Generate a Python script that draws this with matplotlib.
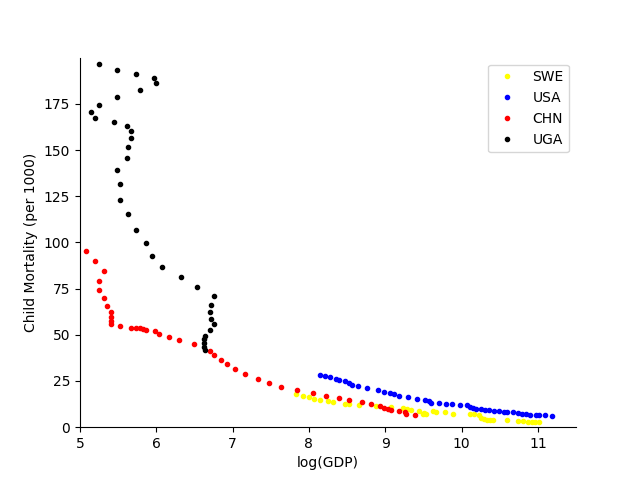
import matplotlib
matplotlib.use("Agg")
import matplotlib.pyplot as plt

uga_x = [5.25, 5.49, 5.74, 5.97, 6.00, 5.78, 5.49, 5.25, 5.14, 5.20, 5.44, 5.61, 5.67, 5.67, 5.63,
         5.61, 5.49, 5.53, 5.53, 5.63, 5.74, 5.86, 5.95, 6.07, 6.32, 6.53, 6.76, 6.72, 6.70, 6.72,
         6.75, 6.71, 6.64, 6.62, 6.63, 6.62, 6.64]
uga_y = [196.5, 193.3, 191.1, 189.0, 186.3, 182.6, 178.6, 174.3, 170.5, 167.2, 165.0, 162.9, 160.2, 156.4, 151.5,
         145.5, 139.0, 131.4, 123.2, 115.1, 106.9, 99.6, 92.8, 86.8, 81.4, 75.9, 71.0, 66.1, 62.3, 58.5,
         55.8, 52.6, 49.6, 47.7, 45.5, 43.3, 41.7]

chn_x = [5.08, 5.20, 5.31, 5.25, 5.25, 5.31, 5.35, 5.40, 5.40, 5.40, 5.40, 5.53, 5.67, 5.74, 5.79,
         5.83, 5.86, 5.98, 6.04, 6.16, 6.30, 6.49, 6.70, 6.76, 6.85, 6.92, 7.03, 7.16, 7.33, 7.48,
         7.64, 7.84, 8.05, 8.22, 8.39, 8.53, 8.69, 8.82, 8.93, 8.99, 9.03, 9.07, 9.18, 9.26, 9.27, 9.39]
chn_y = [95.5, 90.0, 84.6, 79.2, 74.3, 69.9, 65.6, 62.3, 59.6, 57.4, 55.8, 54.7, 53.6, 53.6, 53.6,
         53.1, 52.6, 52.0, 50.4, 48.8, 47.1, 44.9, 41.1, 39.0, 36.2, 34.1, 31.4, 28.6, 25.9, 23.7,
         21.6, 19.9, 18.3, 16.7, 15.6, 14.5, 13.4, 12.3, 11.3, 10.2, 9.6, 9.1, 8.5, 8.0, 6.9, 6.4]

usa_x = [8.14, 8.21, 8.27, 8.35, 8.39, 8.47, 8.53, 8.57, 8.64, 8.76, 8.90, 8.99, 9.06, 9.11, 9.18,
         9.30, 9.41, 9.52, 9.58, 9.60, 9.70, 9.80, 9.87, 9.98, 10.07, 10.11, 10.15, 10.19, 10.25, 10.31,
         10.36, 10.42, 10.49, 10.55, 10.60, 10.68, 10.74, 10.79, 10.84, 10.90, 10.97, 11.02, 11.09, 11.18]
usa_y = [28.1, 27.7, 27.2, 26.1, 25.5, 24.8, 23.7, 22.8, 22.3, 21.0, 20.4, 19.3, 18.3, 17.8, 16.7,
         16.1, 15.1, 14.6, 14.1, 13.0, 13.0, 12.5, 12.5, 12.0, 12.0, 10.9, 10.3, 9.8, 9.8, 9.2,
         9.2, 8.7, 8.7, 8.2, 8.2, 8.2, 7.6, 7.1, 7.1, 6.5, 6.5, 6.5, 6.5, 6.0]

swe_x = [7.83, 7.92, 8.00, 8.07, 8.15, 8.25, 8.32, 8.47, 8.52, 8.65, 8.88, 9.07, 9.23, 9.29, 9.34,
         9.44, 9.49, 9.53, 9.51, 9.62, 9.66, 9.78, 9.89, 10.11, 10.16, 10.23, 10.25, 10.29, 10.33, 10.37,
         10.41, 10.60, 10.74, 10.81, 10.87, 10.92, 10.96, 11.01]
swe_y = [17.8, 16.7, 16.1, 15.1, 14.5, 14.0, 13.4, 12.8, 12.8, 11.8, 11.3, 10.7, 10.2, 9.6, 9.1,
         8.5, 7.4, 7.4, 7.6, 8.7, 8.2, 8.2, 7.1, 7.1, 7.1, 6.5, 4.9, 4.3, 3.8, 3.8,
         3.8, 3.8, 3.3, 3.3, 2.7, 2.7, 2.7, 2.7]

fig, ax = plt.subplots(figsize=(6.4, 4.8), dpi=100)
ax.plot(swe_x, swe_y, '.', color='yellow', label='SWE')
ax.plot(usa_x, usa_y, '.', color='blue', label='USA')
ax.plot(chn_x, chn_y, '.', color='red', label='CHN')
ax.plot(uga_x, uga_y, '.', color='black', label='UGA')
ax.set_xlim(5, 11.5)
ax.set_ylim(0, 200)
ax.set_yticks([0, 25, 50, 75, 100, 125, 150, 175])
ax.spines['top'].set_visible(False)
ax.spines['right'].set_visible(False)
ax.set_xlabel('log(GDP)')
ax.set_ylabel('Child Mortality (per 1000)')
ax.legend(loc='upper right')
fig.savefig('out.png', dpi=100)
